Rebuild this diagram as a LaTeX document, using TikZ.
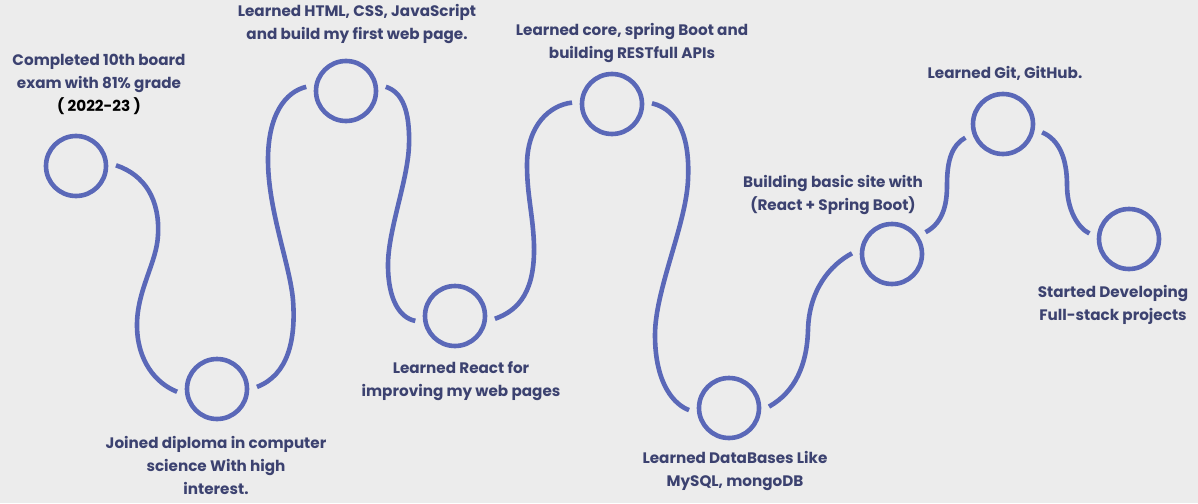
\documentclass[tikz,border=0pt]{standalone}
\usepackage{fontspec}
\setmainfont{Poppins}[UprightFont=* Bold]
\usepackage{xcolor}
\definecolor{bgpaper}{RGB}{236,236,236}
\definecolor{ringblue}{RGB}{90,104,184}
\definecolor{inknavy}{RGB}{60,66,112}
\tikzset{
  mstone/.style={circle,draw=ringblue,line width=4.6pt,minimum size=60pt,inner sep=0pt,outer sep=10pt},
  road/.style={draw=ringblue,line width=4.6pt},
  caption/.style={align=center,text=inknavy,inner sep=0pt,font=\fontsize{15.2}{23}\selectfont}
}
\begin{document}
\begin{tikzpicture}[x=1pt,y=-1pt]
\fill[bgpaper] (0,0) rectangle (1198,503);
\useasboundingbox (0,0) rectangle (1198,503);
% milestones
\node[mstone] (c1) at (76,166) {};
\node[mstone] (c2) at (217,389) {};
\node[mstone] (c3) at (346,91) {};
\node[mstone] (c4) at (455,316) {};
\node[mstone] (c5) at (612,104) {};
\node[mstone] (c6) at (729,408) {};
\node[mstone] (c7) at (892,254) {};
\node[mstone] (c8) at (1003,124) {};
\node[mstone] (c9) at (1129,239) {};
% the winding road
\draw[road] (c1.1) .. controls (145,175) and (160,200) .. (158,235)
  .. controls (157,262) and (137,290) .. (137,325)
  .. controls (137,360) and (155,383) .. (c2.184);
\draw[road] (c2.3) .. controls (288,375) and (296,340) .. (293,300)
  .. controls (290,265) and (268,210) .. (268,160)
  .. controls (268,115) and (285,92) .. (c3.174);
\draw[road] (c3.6) .. controls (402,92) and (410,110) .. (409,145)
  .. controls (408,180) and (388,230) .. (388,265)
  .. controls (388,300) and (400,318) .. (c4.187);
\draw[road] (c4.356) .. controls (520,310) and (535,290) .. (534,245)
  .. controls (533,215) and (527,195) .. (527,165)
  .. controls (527,125) and (550,105) .. (c5.178);
\draw[road] (c5.1) .. controls (680,110) and (690,140) .. (688,180)
  .. controls (686,225) and (655,290) .. (655,335)
  .. controls (655,385) and (675,405) .. (c6.183);
\draw[road] (c6.2) .. controls (795,392) and (807,365) .. (808,330)
  .. controls (809,290) and (830,265) .. (c7.179);
\draw[road] (c7.33) .. controls (945,222) and (947,200) .. (947,185)
  .. controls (947,160) and (952,145) .. (c8.200);
\draw[road] (c8.348) .. controls (1060,140) and (1067,160) .. (1067,185)
  .. controls (1067,210) and (1078,228) .. (c9.172);
% captions
\node[caption] (t1) at (99,84) {Completed 10th board\\exam with 81\% grade\\\textcolor{black}{( 2022-23 )}};
\node[caption] (t2) at (216,465) {Joined diploma in computer\\science With high\\interest.};
\node[caption] (t3) at (357,24) {Learned HTML, CSS, JavaScript\\and build my first web page.};
\node[caption] (t4) at (461,381) {Learned React for\\improving my web pages};
\node[caption] (t5) at (632,43) {Learned core, spring Boot and\\building RESTfull APIs};
\node[caption] (t6) at (735,471) {Learned DataBases Like\\MySQL, mongoDB};
\node[caption] (t7) at (833,195) {Building basic site with\\(React + Spring Boot)};
\node[caption] (t8) at (1005,73) {Learned Git, GitHub.};
\node[caption] (t9) at (1113,305) {Started Developing\\Full-stack projects};
\end{tikzpicture}
\end{document}
